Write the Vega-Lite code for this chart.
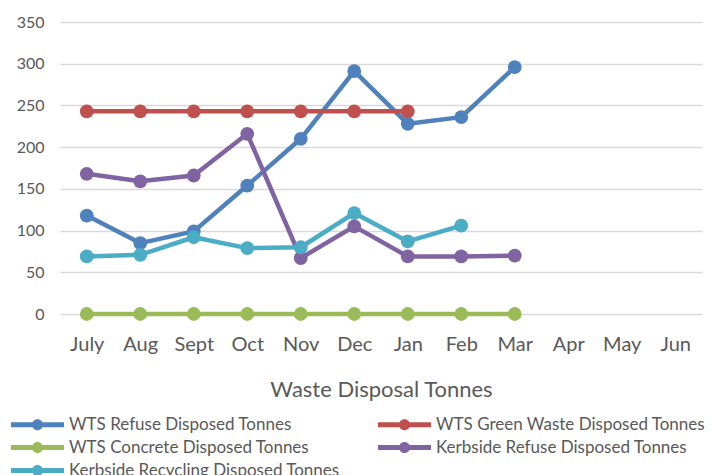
{
  "$schema": "https://vega.github.io/schema/vega-lite/v6.json",
  "width": 642,
  "height": 292,
  "autosize": "none",
  "padding": {"left": 60, "top": 22, "right": 9, "bottom": 161},
  "background": "white",
  "config": {
    "font": "Lato",
    "view": {"stroke": null}
  },
  "data": {
    "values": [
      {"month": "July", "series": "WTS Refuse Disposed Tonnes", "value": 118},
      {"month": "Aug", "series": "WTS Refuse Disposed Tonnes", "value": 85},
      {"month": "Sept", "series": "WTS Refuse Disposed Tonnes", "value": 99},
      {"month": "Oct", "series": "WTS Refuse Disposed Tonnes", "value": 154},
      {"month": "Nov", "series": "WTS Refuse Disposed Tonnes", "value": 210},
      {"month": "Dec", "series": "WTS Refuse Disposed Tonnes", "value": 291},
      {"month": "Jan", "series": "WTS Refuse Disposed Tonnes", "value": 228},
      {"month": "Feb", "series": "WTS Refuse Disposed Tonnes", "value": 236},
      {"month": "Mar", "series": "WTS Refuse Disposed Tonnes", "value": 296},
      {"month": "July", "series": "WTS Green Waste Disposed Tonnes", "value": 243},
      {"month": "Aug", "series": "WTS Green Waste Disposed Tonnes", "value": 243},
      {"month": "Sept", "series": "WTS Green Waste Disposed Tonnes", "value": 243},
      {"month": "Oct", "series": "WTS Green Waste Disposed Tonnes", "value": 243},
      {"month": "Nov", "series": "WTS Green Waste Disposed Tonnes", "value": 243},
      {"month": "Dec", "series": "WTS Green Waste Disposed Tonnes", "value": 243},
      {"month": "Jan", "series": "WTS Green Waste Disposed Tonnes", "value": 243},
      {"month": "July", "series": "WTS Concrete Disposed Tonnes", "value": 0},
      {"month": "Aug", "series": "WTS Concrete Disposed Tonnes", "value": 0},
      {"month": "Sept", "series": "WTS Concrete Disposed Tonnes", "value": 0},
      {"month": "Oct", "series": "WTS Concrete Disposed Tonnes", "value": 0},
      {"month": "Nov", "series": "WTS Concrete Disposed Tonnes", "value": 0},
      {"month": "Dec", "series": "WTS Concrete Disposed Tonnes", "value": 0},
      {"month": "Jan", "series": "WTS Concrete Disposed Tonnes", "value": 0},
      {"month": "Feb", "series": "WTS Concrete Disposed Tonnes", "value": 0},
      {"month": "Mar", "series": "WTS Concrete Disposed Tonnes", "value": 0},
      {"month": "July", "series": "Kerbside Refuse Disposed Tonnes", "value": 168},
      {"month": "Aug", "series": "Kerbside Refuse Disposed Tonnes", "value": 159},
      {"month": "Sept", "series": "Kerbside Refuse Disposed Tonnes", "value": 166},
      {"month": "Oct", "series": "Kerbside Refuse Disposed Tonnes", "value": 216},
      {"month": "Nov", "series": "Kerbside Refuse Disposed Tonnes", "value": 67},
      {"month": "Dec", "series": "Kerbside Refuse Disposed Tonnes", "value": 105},
      {"month": "Jan", "series": "Kerbside Refuse Disposed Tonnes", "value": 69},
      {"month": "Feb", "series": "Kerbside Refuse Disposed Tonnes", "value": 69},
      {"month": "Mar", "series": "Kerbside Refuse Disposed Tonnes", "value": 70},
      {"month": "July", "series": "Kerbside Recycling Disposed Tonnes", "value": 69},
      {"month": "Aug", "series": "Kerbside Recycling Disposed Tonnes", "value": 71},
      {"month": "Sept", "series": "Kerbside Recycling Disposed Tonnes", "value": 92},
      {"month": "Oct", "series": "Kerbside Recycling Disposed Tonnes", "value": 79},
      {"month": "Nov", "series": "Kerbside Recycling Disposed Tonnes", "value": 80},
      {"month": "Dec", "series": "Kerbside Recycling Disposed Tonnes", "value": 121},
      {"month": "Jan", "series": "Kerbside Recycling Disposed Tonnes", "value": 87},
      {"month": "Feb", "series": "Kerbside Recycling Disposed Tonnes", "value": 106}
    ]
  },
  "mark": {
    "type": "line",
    "strokeWidth": 4.5,
    "strokeJoin": "round",
    "point": {"size": 190, "filled": true, "opacity": 1}
  },
  "encoding": {
    "x": {
      "field": "month",
      "type": "ordinal",
      "sort": ["July", "Aug", "Sept", "Oct", "Nov", "Dec", "Jan", "Feb", "Mar", "Apr", "May", "Jun"],
      "scale": {"domain": ["July", "Aug", "Sept", "Oct", "Nov", "Dec", "Jan", "Feb", "Mar", "Apr", "May", "Jun"], "type": "point", "padding": 0.5},
      "axis": {
        "title": "Waste Disposal Tonnes",
        "titleFontSize": 22,
        "titleFontWeight": "normal",
        "titleColor": "#595959",
        "titlePadding": 25,
        "labelFontSize": 20,
        "labelColor": "#595959",
        "labelPadding": 20,
        "labelAngle": 0,
        "ticks": false,
        "domain": false,
        "grid": false
      }
    },
    "y": {
      "field": "value",
      "type": "quantitative",
      "scale": {"domain": [0, 350], "nice": false},
      "axis": {
        "title": null,
        "values": [0, 50, 100, 150, 200, 250, 300, 350],
        "labelFontSize": 16,
        "labelColor": "#595959",
        "labelPadding": 16,
        "ticks": false,
        "domain": false,
        "gridColor": "#D9D9D9",
        "gridWidth": 1.5
      }
    },
    "color": {
      "field": "series",
      "type": "nominal",
      "sort": null,
      "scale": {
        "domain": ["WTS Refuse Disposed Tonnes", "WTS Green Waste Disposed Tonnes", "WTS Concrete Disposed Tonnes", "Kerbside Refuse Disposed Tonnes", "Kerbside Recycling Disposed Tonnes"],
        "range": ["#4F81BD", "#C0504D", "#9BBB59", "#8064A2", "#4BACC6"]
      },
      "legend": {
        "title": null,
        "orient": "none",
        "legendX": -31,
        "legendY": 394,
        "columns": 2,
        "direction": "horizontal",
        "columnPadding": 38,
        "rowPadding": 5,
        "labelFontSize": 17,
        "labelColor": "#595959",
        "labelOffset": 23,
        "labelLimit": 400,
        "symbolType": "M-5.3,-0.5H5.3V0.5H-5.3Z M1.1,0A1.1,1.1,0,1,1,-1.1,0A1.1,1.1,0,1,1,1.1,0Z",
        "symbolSize": 100,
        "symbolStrokeWidth": 0,
        "encode": {
          "symbols": {"update": {"fill": {"scale": "color", "field": "value"}, "fillOpacity": {"value": 1}, "strokeWidth": {"value": 0}}}
        }
      }
    }
  }
}
